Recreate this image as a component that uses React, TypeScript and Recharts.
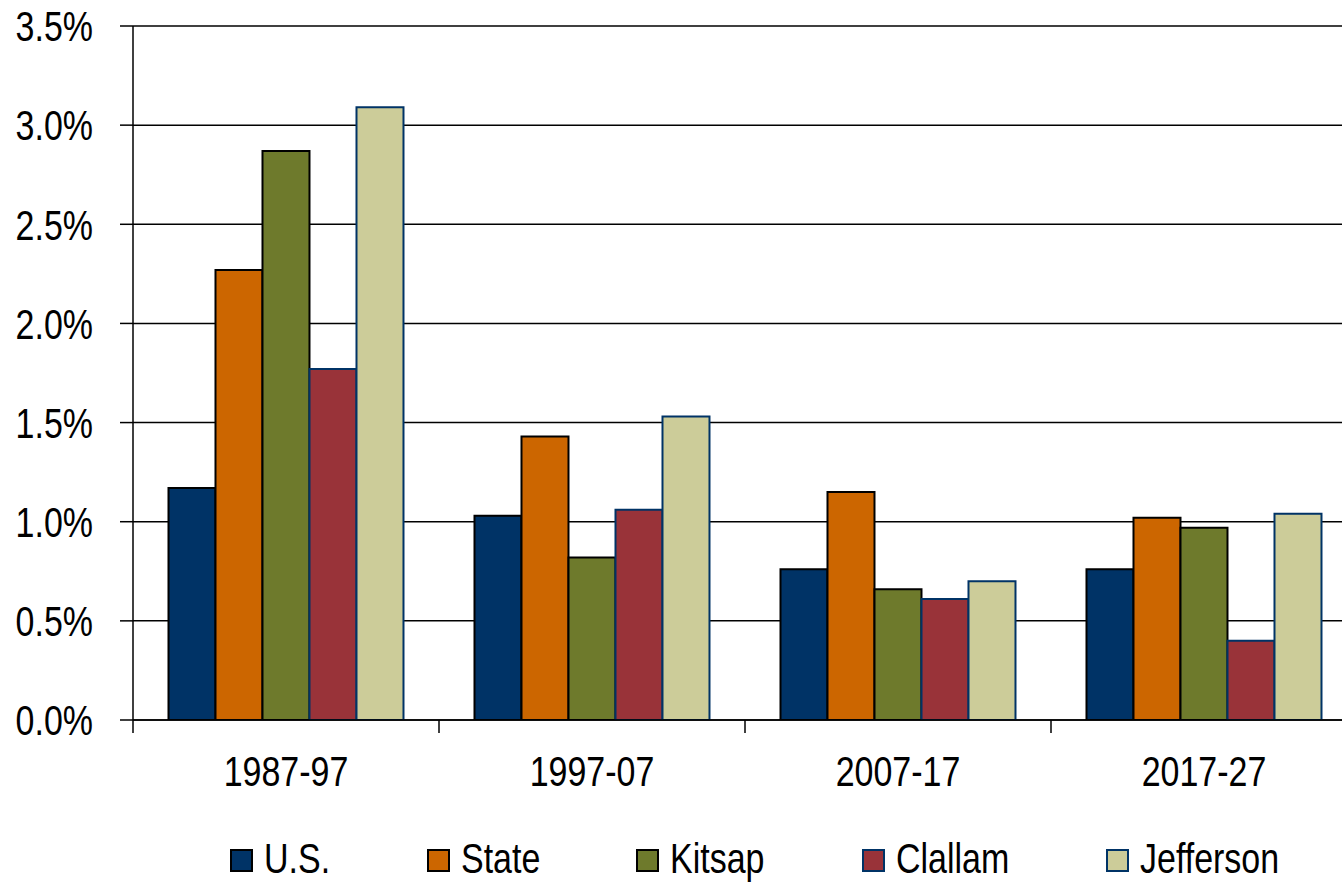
import React from "react";
import { BarChart, Bar, XAxis, YAxis, CartesianGrid, Legend } from "recharts";

const periods = ["1987-97", "1997-07", "2007-17", "2017-27"];
const usValues = [1.17, 1.03, 0.76, 0.76];
const stateValues = [2.27, 1.43, 1.15, 1.02];
const kitsapValues = [2.87, 0.82, 0.66, 0.97];
const clallamValues = [1.77, 1.06, 0.61, 0.4];
const jeffersonValues = [3.09, 1.53, 0.7, 1.04];
const yTicks = [0, 0.5, 1, 1.5, 2, 2.5, 3, 3.5];

const seriesNames = ["U.S.", "State", "Kitsap", "Clallam", "Jefferson"];
const seriesKeys = ["us", "state", "kitsap", "clallam", "jefferson"];
const seriesFill = ["#003366", "#CC6600", "#6E7A2C", "#993339", "#CCCC99"];
const seriesStroke = ["#000000", "#000000", "#000000", "#003366", "#003366"];
const legendLeft = [230, 427, 636, 862, 1106];

const data = periods.map((p, i) => ({
  period: p,
  us: usValues[i],
  state: stateValues[i],
  kitsap: kitsapValues[i],
  clallam: clallamValues[i],
  jefferson: jeffersonValues[i],
}));

const FONT = "'Liberation Sans', Arial, sans-serif";
const NARROW = 0.79;
const FS = 43;
const X_TICK_MARGIN = 35;
const BOUNDARY_TICK = 13;

const NarrowText = ({ x, y, anchor, dy, label }: any) => (
  <text
    transform={`translate(${x},${y}) scale(${NARROW},1)`}
    textAnchor={anchor}
    dy={dy}
    fill="#000"
    fontSize={FS}
    fontFamily={FONT}
  >
    {label}
  </text>
);

const YTick = (props: any) => {
  const { x, y, payload, tickFormatter } = props;
  const label = tickFormatter ? tickFormatter(payload.value) : payload.value;
  return <NarrowText x={x} y={y} anchor="end" dy="0.355em" label={label} />;
};

const XTick = (props: any) => {
  const { x, y, payload, width, visibleTicksCount } = props;
  const half =
    payload && typeof payload.offset === "number" && payload.offset > 0
      ? payload.offset
      : width / visibleTicksCount / 2;
  const bx = x - half;
  const top = y - X_TICK_MARGIN;
  return (
    <g>
      <line x1={bx} x2={bx} y1={top} y2={top + BOUNDARY_TICK} stroke="#000" strokeWidth={1.5} />
      <NarrowText x={x} y={y} anchor="middle" dy="0.71em" label={payload.value} />
    </g>
  );
};

const LegendContent = () => (
  <div style={{ position: "relative", width: 1342, height: FS, fontFamily: FONT }}>
    {seriesNames.map((n, i) => (
      <div
        key={n}
        style={{
          position: "absolute",
          left: legendLeft[i],
          top: 0,
          height: FS,
          display: "flex",
          alignItems: "center",
          whiteSpace: "nowrap",
        }}
      >
        <span
          style={{
            display: "inline-block",
            width: 19,
            height: 19,
            background: seriesFill[i],
            border: `2px solid ${seriesStroke[i]}`,
            marginRight: 11,
            position: "relative",
            top: 1.5,
          }}
        />
        <span
          style={{
            display: "inline-block",
            fontSize: FS,
            lineHeight: `${FS}px`,
            color: "#000",
            transform: `scaleX(${NARROW})`,
            transformOrigin: "left center",
          }}
        >
          {n}
        </span>
      </div>
    ))}
  </div>
);

export default function App() {
  return (
    <div style={{ position: "absolute", left: 0, top: 0, width: 1342, height: 884, overflow: "hidden", background: "#fff" }}>
      <BarChart
        width={1380}
        height={884}
        data={data}
        margin={{ top: 26, right: 23, left: 0, bottom: 0 }}
        barCategoryGap="11.6%"
        barGap={0}
        style={{ fontFamily: FONT }}
      >
        <CartesianGrid vertical={false} stroke="#000" strokeWidth={1.5} />
        <XAxis
          dataKey="period"
          height={164}
          tickSize={0}
          tickMargin={X_TICK_MARGIN}
          axisLine={{ stroke: "#000", strokeWidth: 1.5 }}
          tickLine={false}
          tick={<XTick />}
          interval={0}
        />
        <YAxis
          width={133}
          domain={[0, 3.5]}
          ticks={yTicks}
          tickSize={13}
          tickMargin={27}
          tickFormatter={(v: number) => `${v.toFixed(1)}%`}
          tick={<YTick />}
          axisLine={{ stroke: "#000", strokeWidth: 1.5 }}
          tickLine={{ stroke: "#000", strokeWidth: 1.5 }}
          allowDataOverflow
        />
        <Legend
          layout="horizontal"
          verticalAlign="middle"
          content={<LegendContent />}
          wrapperStyle={{ top: 837, left: 0, width: 1342 }}
        />
        {seriesKeys.map((k, i) => (
          <Bar
            key={k}
            dataKey={k}
            name={seriesNames[i]}
            fill={seriesFill[i]}
            stroke={seriesStroke[i]}
            strokeWidth={2}
            isAnimationActive={false}
          />
        ))}
      </BarChart>
    </div>
  );
}
